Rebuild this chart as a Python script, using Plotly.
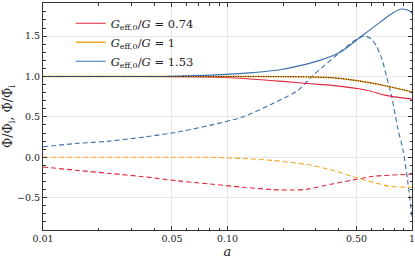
import plotly.graph_objects as go

# ---- data ----
red_solid_a = [0.01, 0.038, 0.087, 0.132, 0.2, 0.28, 0.37, 0.57, 0.71, 1.0]
red_solid_y = [1.0, 1.0, 0.99, 0.97, 0.94, 0.91, 0.89, 0.83, 0.77, 0.72]
red_dash_a = [0.01, 0.015, 0.023, 0.035, 0.053, 0.08, 0.121, 0.177, 0.22, 0.27, 0.37, 0.48, 0.62, 1.0]
red_dash_y = [-0.12, -0.16, -0.20, -0.24, -0.29, -0.33, -0.37, -0.40, -0.405, -0.395, -0.33, -0.28, -0.235, -0.21]

orange_solid_a = [0.01, 0.05, 0.1, 0.2, 0.28, 0.37, 0.5, 0.7, 1.0]
orange_solid_y = [1.0, 1.0, 1.0, 0.998, 0.995, 0.985, 0.95, 0.89, 0.81]
orange_dash_a = [0.01, 0.05, 0.08, 0.121, 0.177, 0.27, 0.37, 0.48, 0.62, 0.76, 1.0]
orange_dash_y = [0.0, 0.0, 0.0, -0.015, -0.04, -0.09, -0.16, -0.24, -0.31, -0.36, -0.37]

lcdm_a = orange_solid_a
lcdm_y = orange_solid_y

blue_solid_a = [0.01, 0.038, 0.057, 0.087, 0.132, 0.2, 0.247, 0.316, 0.407, 0.54, 0.67, 0.79, 0.88, 0.97, 1.0]
blue_solid_y = [1.0, 1.0, 1.008, 1.02, 1.045, 1.09, 1.135, 1.20, 1.30, 1.51, 1.67, 1.79, 1.835, 1.81, 1.78]
blue_dash_a = [0.01, 0.015, 0.023, 0.035, 0.053, 0.08, 0.121, 0.174, 0.226, 0.247, 0.29, 0.407, 0.5, 0.556,
               0.60, 0.64, 0.686, 0.73, 0.777, 0.839, 0.894, 0.951, 1.0]
blue_dash_y = [0.13, 0.17, 0.20, 0.25, 0.31, 0.395, 0.50, 0.66, 0.79, 0.85, 1.01, 1.30, 1.46, 1.50,
               1.465, 1.38, 1.22, 0.99, 0.745, 0.35, 0.09, -0.32, -0.74]

labels = ["0.74", "1", "1.53"]
x_tickvals = [0.01, 0.05, 0.1, 0.5, 1]
x_ticktext = ["0.01", "0.05", "0.10", "0.50", "1"]
x_minor = [0.02, 0.03, 0.04, 0.06, 0.07, 0.08, 0.09, 0.2, 0.3, 0.4, 0.6, 0.7, 0.8, 0.9]
y_tickvals = [-0.5, 0.0, 0.5, 1.0, 1.5]
y_ticktext = ["\u22120.5", "0.0", "0.5", "1.0", "1.5"]

RED = "#e0263c"
ORANGE = "#f5a623"
BLUE = "#3b70ad"
FONT = "DejaVu Serif"

def leg(v):
    return "<i>G</i><sub>eff,0</sub>/<i>G</i> = " + v

fig = go.Figure()
fig.add_trace(go.Scatter(x=red_dash_a, y=red_dash_y, mode="lines", line=dict(color=RED, width=1.1, dash="5px,3px", shape="spline", smoothing=0.8), showlegend=False))
fig.add_trace(go.Scatter(x=orange_dash_a, y=orange_dash_y, mode="lines", line=dict(color=ORANGE, width=1.1, dash="5px,3px", shape="spline", smoothing=0.8), showlegend=False))
fig.add_trace(go.Scatter(x=blue_dash_a, y=blue_dash_y, mode="lines", line=dict(color=BLUE, width=1.1, dash="5px,3px", shape="spline", smoothing=0.8), showlegend=False))
fig.add_trace(go.Scatter(x=red_solid_a, y=red_solid_y, mode="lines", line=dict(color=RED, width=1.1, shape="spline", smoothing=0.8), name=leg(labels[0])))
fig.add_trace(go.Scatter(x=orange_solid_a, y=orange_solid_y, mode="lines", line=dict(color=ORANGE, width=1.4, shape="spline", smoothing=0.8), name=leg(labels[1])))
fig.add_trace(go.Scatter(x=blue_solid_a, y=blue_solid_y, mode="lines", line=dict(color=BLUE, width=1.1, shape="spline", smoothing=0.8), name=leg(labels[2])))
fig.add_trace(go.Scatter(x=lcdm_a, y=lcdm_y, mode="lines", line=dict(color="black", width=1.0, dash="1px,1.5px", shape="spline", smoothing=0.8), showlegend=False))

axis_common = dict(
    showline=True, linecolor="#333", linewidth=1, mirror="ticks",
    ticks="inside", ticklen=4, tickcolor="#333", tickwidth=0.8,
    showgrid=True, gridcolor="#e6e6e6", gridwidth=0.8, zeroline=False,
    tickfont=dict(family=FONT, size=9.5, color="#222"),
    automargin=False,
)

fig.update_layout(
    width=415, height=268,
    margin=dict(l=43, r=3, t=3, b=38),
    paper_bgcolor="white", plot_bgcolor="white",
    font=dict(family=FONT, color="#222"),
    legend=dict(x=0.075, y=0.975, xanchor="left", yanchor="top", bgcolor="rgba(0,0,0,0)",
                font=dict(family=FONT, size=11.5), tracegroupgap=0, itemwidth=30),
    xaxis=dict(type="log", range=[-2, 0], tickvals=x_tickvals, ticktext=x_ticktext,
               ticklabeloverflow="allow",
               minor=dict(tickvals=x_minor, ticks="inside", ticklen=2.5, tickcolor="#333", showgrid=False),
               title=dict(text="<i>a</i>", font=dict(family=FONT, size=13), standoff=2),
               **axis_common),
    yaxis=dict(range=[-0.9, 1.91], tickvals=y_tickvals, ticktext=y_ticktext,
               minor=dict(dtick=0.1, ticks="inside", ticklen=2.5, tickcolor="#333", showgrid=False),
               title=dict(text="\u03a6/\u03a6<sub>i</sub>, \u03a6\u0307/\u03a6\u0307<sub>i</sub>", font=dict(family=FONT, size=12.5), standoff=4),
               **axis_common),
)

fig.write_html("out.html", config={"displayModeBar": False},
               post_script="document.body.style.margin='0';document.body.style.overflow='hidden';")
